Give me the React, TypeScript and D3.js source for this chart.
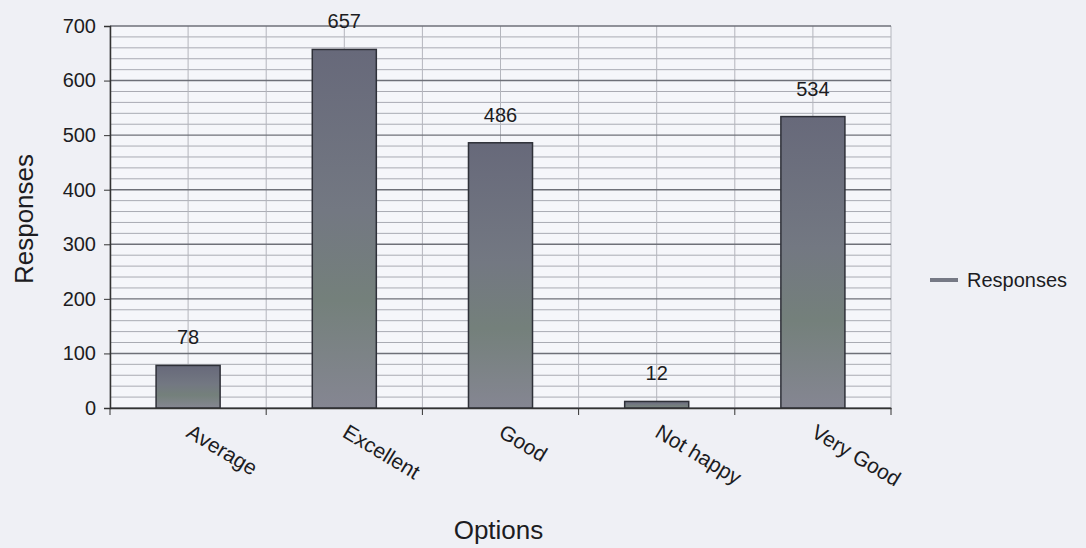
import React, { useEffect, useRef } from 'react';
import * as d3 from 'd3';

const categories = ['Average', 'Excellent', 'Good', 'Not happy', 'Very Good'];
const responses = [78, 657, 486, 12, 534];
const yTicks = [0, 100, 200, 300, 400, 500, 600, 700];
const seriesName = 'Responses';

const App: React.FC = () => {
  const ref = useRef<SVGSVGElement | null>(null);

  useEffect(() => {
    if (!ref.current) return;
    const W = 1086;
    const H = 548;
    const margin = { top: 26, right: 195, bottom: 140, left: 110 };
    const width = W - margin.left - margin.right;
    const height = H - margin.top - margin.bottom;
    const font = 'Liberation Sans, Arial, sans-serif';

    const root = d3.select(ref.current);
    root.selectAll('*').remove();
    root.attr('width', W).attr('height', H);

    const defs = root.append('defs');
    const grad = defs.append('linearGradient').attr('id', 'barGrad')
      .attr('x1', '0').attr('x2', '0').attr('y1', '0').attr('y2', '1');
    grad.append('stop').attr('offset', '0%').attr('stop-color', '#67697a');
    grad.append('stop').attr('offset', '45%').attr('stop-color', '#737882');
    grad.append('stop').attr('offset', '70%').attr('stop-color', '#74807b');
    grad.append('stop').attr('offset', '100%').attr('stop-color', '#858692');

    // page background (scanned paper look)
    root.append('rect').attr('width', W).attr('height', H).attr('fill', '#eff0f5');

    const g = root.append('g').attr('transform', `translate(${margin.left},${margin.top})`);

    const x = d3.scaleBand().domain(categories).range([0, width]).paddingInner(0).paddingOuter(0);
    const y = d3.scaleLinear().domain([0, 700]).range([height, 0]);

    g.append('rect').attr('width', width).attr('height', height).attr('fill', '#f5f6fa');

    // minor grid lines every 20
    const minor = d3.range(0, 701, 20).filter(v => v % 100 !== 0);
    g.selectAll('.minor').data(minor).enter().append('line')
      .attr('x1', 0).attr('x2', width)
      .attr('y1', d => y(d)).attr('y2', d => y(d))
      .attr('stroke', '#a9abb3').attr('stroke-width', 1);

    // vertical grid lines at band edges and centres
    const vx: number[] = [];
    categories.forEach(c => {
      vx.push(x(c)!);
      vx.push(x(c)! + x.bandwidth() / 2);
    });
    vx.push(width);
    g.selectAll('.vgrid').data(vx).enter().append('line')
      .attr('x1', d => d).attr('x2', d => d)
      .attr('y1', 0).attr('y2', height)
      .attr('stroke', '#b4b6bd').attr('stroke-width', 1);

    // major grid lines
    g.selectAll('.major').data(yTicks).enter().append('line')
      .attr('x1', 0).attr('x2', width)
      .attr('y1', d => y(d)).attr('y2', d => y(d))
      .attr('stroke', '#6e7078').attr('stroke-width', 1.4);

    // bars
    const barW = x.bandwidth() * 0.41;
    g.selectAll('.bar').data(responses).enter().append('rect')
      .attr('x', (_, i) => x(categories[i])! + (x.bandwidth() - barW) / 2)
      .attr('y', d => y(d))
      .attr('width', barW)
      .attr('height', d => y(0) - y(d))
      .attr('fill', 'url(#barGrad)')
      .attr('stroke', '#2e3038').attr('stroke-width', 1.5);

    // value labels
    g.selectAll('.val').data(responses).enter().append('text')
      .attr('x', (_, i) => x(categories[i])! + x.bandwidth() / 2)
      .attr('y', d => y(d) - 21)
      .attr('text-anchor', 'middle')
      .attr('font-family', font).attr('font-size', 20).attr('fill', '#1c1c22')
      .text(d => d);

    // y axis
    const yAxis = g.append('g').call(
      d3.axisLeft(y).tickValues(yTicks).tickSize(6).tickPadding(8).tickFormat(d3.format('d'))
    );
    yAxis.select('.domain').attr('stroke', '#333').attr('stroke-width', 1.5);
    yAxis.selectAll('line').attr('stroke', '#333');
    yAxis.selectAll('text').attr('font-family', font).attr('font-size', 20).attr('fill', '#1c1c22');

    // x axis
    const xAxis = g.append('g').attr('transform', `translate(0,${height})`)
      .call(d3.axisBottom(x).tickSize(0).tickFormat(() => ''));
    xAxis.select('.domain').attr('stroke', '#333').attr('stroke-width', 1.5);
    const edges = [...categories.map(c => x(c)!), width];
    xAxis.selectAll('.edge').data(edges).enter().append('line')
      .attr('x1', d => d).attr('x2', d => d).attr('y1', 0).attr('y2', 7)
      .attr('stroke', '#333');

    // rotated category labels
    g.selectAll('.cat').data(categories).enter().append('text')
      .attr('transform', d => `translate(${x(d)! + x.bandwidth() / 2 - 3},${height + 28}) rotate(31)`)
      .attr('text-anchor', 'start')
      .attr('font-family', font).attr('font-size', 21).attr('fill', '#1c1c22')
      .text(d => d);

    // axis titles
    root.append('text')
      .attr('transform', `translate(33,${margin.top + height / 2 + 2}) rotate(-90)`)
      .attr('text-anchor', 'middle')
      .attr('font-family', font).attr('font-size', 26).attr('fill', '#1c1c22')
      .text('Responses');
    root.append('text')
      .attr('x', margin.left + width / 2 - 2).attr('y', 539)
      .attr('text-anchor', 'middle')
      .attr('font-family', font).attr('font-size', 26).attr('fill', '#1c1c22')
      .text('Options');

    // legend
    const legend = root.append('g').attr('transform', 'translate(930,280)');
    legend.append('line').attr('x1', 0).attr('x2', 28).attr('y1', 0).attr('y2', 0)
      .attr('stroke', '#767985').attr('stroke-width', 4);
    legend.append('text').attr('x', 37).attr('y', 0).attr('dy', '0.35em')
      .attr('font-family', font).attr('font-size', 20).attr('fill', '#1c1c22')
      .text(seriesName);
  }, []);

  return <svg ref={ref} style={{ position: 'absolute', left: 0, top: 0 }}></svg>;
};

export default App;
